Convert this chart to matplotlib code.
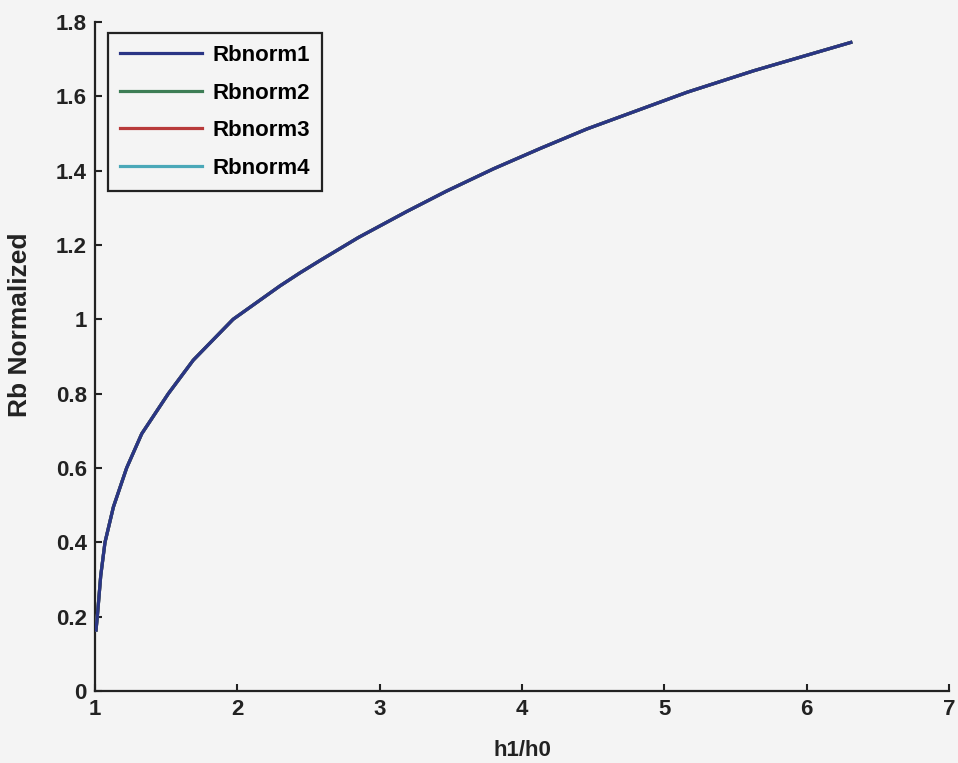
import matplotlib.pyplot as plt

# values (all four series overlap)
h_ratio = [1.007, 1.016, 1.04, 1.07, 1.129, 1.222, 1.328, 1.515, 1.69, 1.97,
           2.30, 2.44, 2.58, 2.85, 3.19, 3.47, 3.80, 4.13, 4.455, 5.16, 5.63, 6.31]
rb_norm = [0.164, 0.2, 0.31, 0.4, 0.495, 0.6, 0.692, 0.8, 0.89, 1.0,
           1.09, 1.125, 1.158, 1.22, 1.29, 1.345, 1.405, 1.46, 1.512, 1.611, 1.669, 1.745]

series = ["Rbnorm1", "Rbnorm2", "Rbnorm3", "Rbnorm4"]
colours = ["#2a3585", "#3d7d55", "#b83a3a", "#4aa8b8"]

x_ticks = [1, 2, 3, 4, 5, 6, 7]
y_ticks = [0, 0.2, 0.4, 0.6, 0.8, 1, 1.2, 1.4, 1.6, 1.8]
y_tick_labels = ["0", "0.2", "0.4", "0.6", "0.8", "1", "1.2", "1.4", "1.6", "1.8"]

plt.rcParams["font.family"] = ["Liberation Sans", "DejaVu Sans"]
plt.rcParams["font.weight"] = "bold"

fig = plt.figure(figsize=(9.58, 7.63), dpi=100)
fig.patch.set_facecolor("#f4f4f4")
ax = fig.add_axes([0.0992, 0.0944, 0.8914, 0.8768])
ax.set_facecolor("#f4f4f4")

# draw blue last so it sits on top like the scan
for i in [3, 2, 1, 0]:
    ax.plot(h_ratio, rb_norm, color=colours[i], lw=2.3, label=series[i], zorder=3 + (3 - i))

ax.set_xlim(1, 7)
ax.set_ylim(0, 1.8)
ax.set_xticks(x_ticks)
ax.set_yticks(y_ticks)
ax.set_yticklabels(y_tick_labels)

for s in ["top", "right"]:
    ax.spines[s].set_visible(False)
for s in ["left", "bottom"]:
    ax.spines[s].set_linewidth(1.6)
    ax.spines[s].set_color("#222222")

ax.tick_params(direction="in", length=5, width=1.5, labelsize=16, colors="#222222", pad=6)

ax.set_xlabel("h1/h0", fontsize=16, fontweight="bold", color="#222222")
ax.xaxis.set_label_coords(0.5, -0.073)
ax.set_ylabel("Rb Normalized", fontsize=19, fontweight="bold", color="#222222",
              va="center")
ax.yaxis.set_label_coords(-0.088, 0.547)

handles, labels = ax.get_legend_handles_labels()
order = [labels.index(s) for s in series]
leg = ax.legend([handles[k] for k in order], [labels[k] for k in order],
                loc="upper left", bbox_to_anchor=(0.0152, 0.9836), borderaxespad=0,
                fontsize=16, handlelength=3.7, handletextpad=0.45, labelspacing=0.74,
                borderpad=0.55, fancybox=False, framealpha=1, edgecolor="#222222",
                facecolor="#f4f4f4")
leg.get_frame().set_linewidth(1.6)

fig.savefig("out.png", dpi=100, facecolor=fig.get_facecolor())
